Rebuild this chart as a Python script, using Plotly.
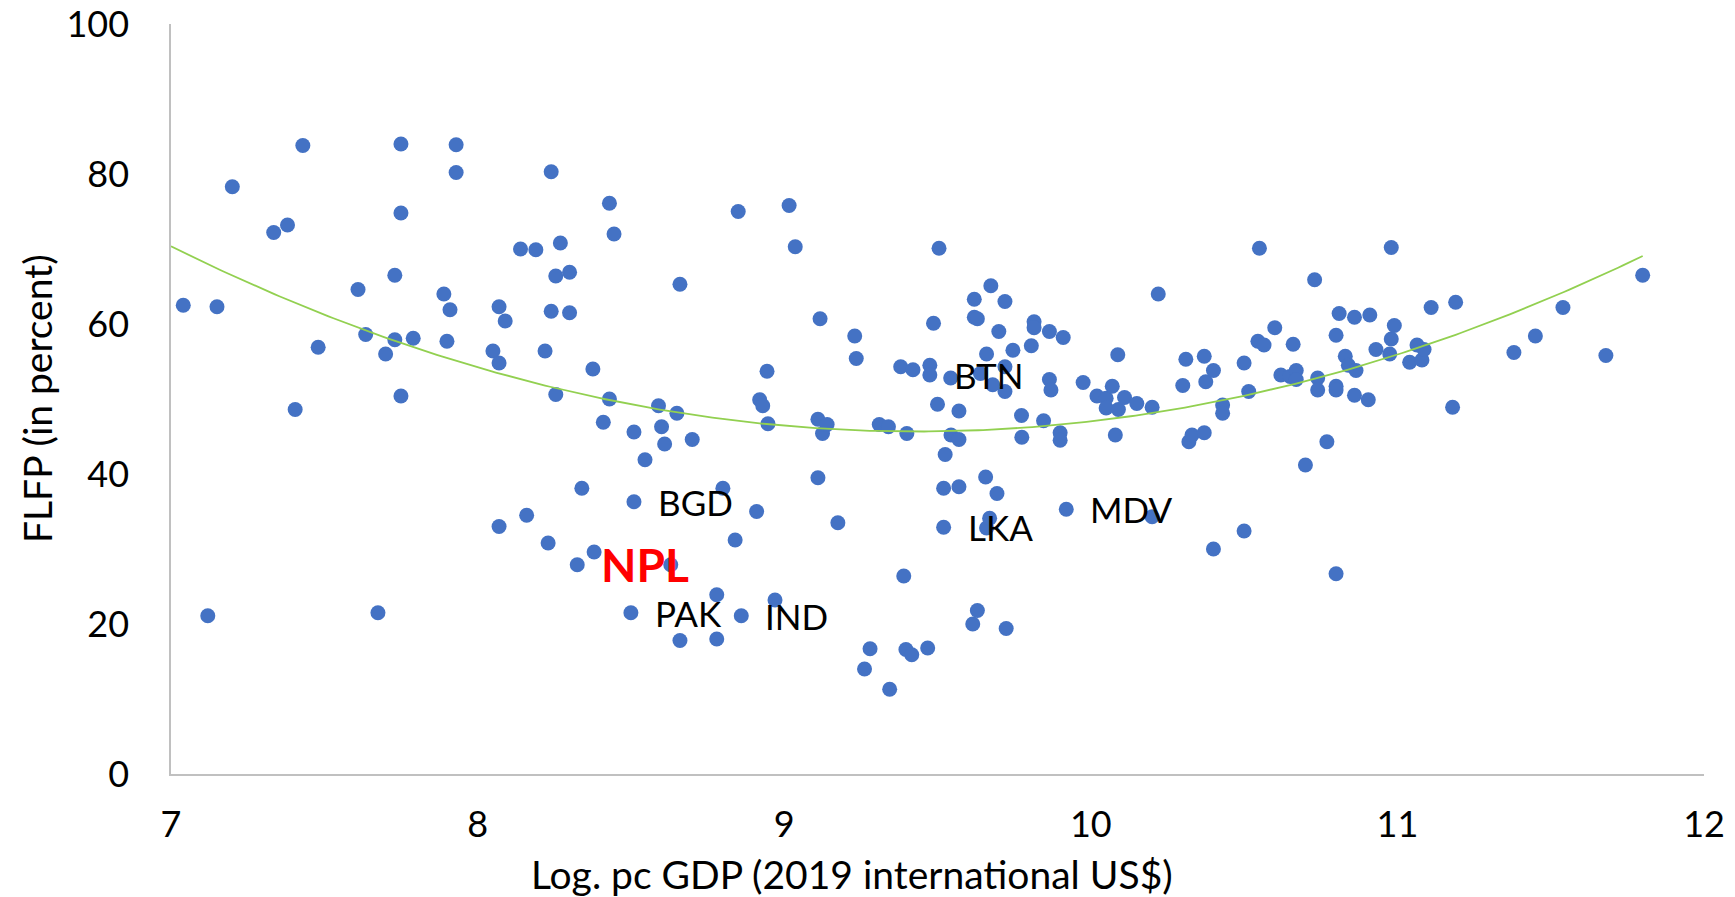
import numpy as np
import plotly.graph_objects as go

# Log. pc GDP (2019 international US$)
gdp = [7.04, 7.12, 7.15, 7.20, 7.335, 7.38, 7.405, 7.43, 7.48, 7.61, 7.635, 7.675, 7.70, 7.73, 7.73,
       7.75, 7.75, 7.75, 7.79, 7.89, 7.90, 7.91, 7.93, 7.93, 8.05, 8.07, 8.07, 8.07, 8.09, 8.14,
       8.16, 8.19, 8.22, 8.23, 8.24, 8.24, 8.255, 8.255, 8.27, 8.30, 8.30, 8.325, 8.34, 8.376, 8.38,
       8.41, 8.43, 8.43, 8.445, 8.50, 8.51, 8.51, 8.546, 8.59, 8.60, 8.61, 8.63, 8.65, 8.66, 8.66,
       8.70, 8.78, 8.78, 8.80, 8.84, 8.85, 8.86, 8.91, 8.92, 8.93, 8.944, 8.947, 8.97, 9.016, 9.036,
       9.11, 9.11, 9.117, 9.125, 9.14, 9.175, 9.23, 9.235, 9.262, 9.28, 9.31, 9.34, 9.344, 9.38, 9.39,
       9.397, 9.40, 9.416, 9.42, 9.468, 9.475, 9.475, 9.487, 9.50, 9.505, 9.52, 9.52, 9.525, 9.543, 9.544,
       9.57, 9.57, 9.57, 9.615, 9.62, 9.62, 9.63, 9.63, 9.64, 9.657, 9.66, 9.66, 9.67, 9.674, 9.68,
       9.694, 9.70, 9.72, 9.72, 9.72, 9.724, 9.746, 9.774, 9.775, 9.806, 9.815, 9.815, 9.846, 9.865, 9.865,
       9.87, 9.90, 9.90, 9.91, 9.92, 9.975, 10.02, 10.05, 10.05, 10.07, 10.08, 10.088, 10.09, 10.11, 10.15,
       10.20, 10.20, 10.22, 10.30, 10.31, 10.32, 10.33, 10.37, 10.37, 10.375, 10.40, 10.40, 10.43, 10.43, 10.50,
       10.50, 10.515, 10.545, 10.55, 10.565, 10.60, 10.62, 10.65, 10.66, 10.67, 10.67, 10.70, 10.73, 10.74, 10.74,
       10.77, 10.80, 10.80, 10.80, 10.80, 10.81, 10.83, 10.84, 10.86, 10.86, 10.865, 10.905, 10.91, 10.93, 10.975,
       10.98, 10.98, 10.99, 11.04, 11.064, 11.08, 11.087, 11.11, 11.18, 11.19, 11.38, 11.45, 11.54, 11.68, 11.80]

# FLFP (in percent)
flfp = [62.5, 21.1, 62.3, 78.3, 72.2, 73.2, 48.6, 83.8, 56.9, 64.6, 58.6, 21.5, 56.0, 66.5, 57.9,
        74.8, 84.0, 50.4, 58.1, 64.0, 57.7, 61.9, 83.9, 80.2, 56.4, 62.3, 54.8, 33.0, 60.4, 70.0,
        34.5, 69.9, 56.4, 30.8, 80.3, 61.7, 66.4, 50.6, 70.8, 66.9, 61.5, 27.9, 38.1, 54.0, 29.6,
        46.9, 76.1, 50.0, 72.0, 21.5, 45.6, 36.3, 41.9, 49.1, 46.3, 44.0, 27.9, 48.1, 65.3, 17.8,
        44.6, 23.9, 18.0, 38.1, 31.2, 75.0, 21.1, 35.0, 49.9, 49.1, 53.7, 46.7, 23.2, 75.8, 70.3,
        47.3, 39.5, 60.7, 45.4, 46.6, 33.5, 58.4, 55.4, 14.0, 16.7, 46.6, 46.3, 11.3, 54.3, 26.4,
        16.6, 45.4, 15.9, 53.9, 16.8, 54.5, 53.2, 60.1, 49.3, 70.1, 38.1, 32.9, 42.6, 52.8, 45.2,
        48.4, 44.6, 38.3, 20.0, 63.3, 60.9, 60.7, 21.8, 53.4, 39.6, 56.0, 32.8, 34.1, 65.1, 51.9,
        37.4, 59.0, 63.0, 54.3, 51.0, 19.4, 56.5, 47.8, 44.9, 57.1, 60.3, 59.5, 47.1, 59.0, 52.6,
        51.2, 45.5, 44.5, 58.2, 35.3, 52.2, 50.4, 50.1, 48.8, 51.7, 45.2, 55.9, 48.6, 50.2, 49.4,
        48.9, 34.3, 64.0, 51.8, 55.3, 44.3, 45.2, 45.5, 55.7, 52.3, 53.8, 30.0, 49.2, 48.1, 54.8,
        32.4, 51.0, 57.7, 70.1, 57.2, 59.5, 53.2, 53.0, 57.3, 53.8, 52.6, 41.2, 65.9, 52.8, 51.2,
        44.3, 58.5, 51.7, 51.2, 26.7, 61.4, 55.7, 54.5, 60.9, 50.5, 53.8, 49.9, 61.2, 56.6, 56.0,
        70.2, 58.0, 59.8, 54.9, 57.2, 55.2, 56.6, 62.2, 48.9, 62.9, 56.2, 58.4, 62.2, 55.8, 66.5]

# Labelled South Asian countries
label_codes = ["BTN", "BGD", "NPL", "PAK", "IND", "LKA", "MDV"]
label_x = [9.475, 8.51, 8.325, 8.50, 8.86, 9.52, 9.92]
label_y = [53.2, 36.3, 27.9, 21.5, 21.1, 32.9, 35.3]

x_ticks = [7, 8, 9, 10, 11, 12]
y_ticks = [0, 20, 40, 60, 80, 100]

x_title = "Log. pc GDP (2019 international US$)"
y_title = "FLFP (in percent)"

FONT = "Lato"

fig = go.Figure()
fig.add_trace(go.Scatter(
    x=gdp, y=flfp, mode="markers",
    marker=dict(color="#4472C4", size=15, line=dict(width=0)),
    showlegend=False, hoverinfo="x+y"))

# Polynomial (order 2) trendline fitted to the data
coef = np.polyfit(gdp, flfp, 2)
xs = np.linspace(x_ticks[0], max(gdp), 300)
fig.add_trace(go.Scatter(
    x=xs, y=np.polyval(coef, xs), mode="lines",
    line=dict(color="#92D050", width=1.8), showlegend=False, hoverinfo="skip"))

for code, lx, ly in zip(label_codes, label_x, label_y):
    is_npl = code == "NPL"
    fig.add_annotation(
        x=lx, y=ly, xref="x", yref="y", text=f"<b>{code}</b>" if is_npl else code,
        showarrow=False, xanchor="left", yanchor="middle", xshift=22,
        font=dict(family=FONT, size=46 if is_npl else 35, color="#FF0000" if is_npl else "#000000"))

# Axis titles
fig.add_annotation(text=x_title, xref="paper", yref="paper", x=0.444, y=0,
                   xanchor="center", yanchor="middle", yshift=-100, showarrow=False,
                   font=dict(family=FONT, size=39, color="#000000"))
fig.add_annotation(text=y_title, xref="paper", yref="paper", x=0, y=0.5, textangle=-90,
                   xanchor="center", yanchor="middle", xshift=-134, showarrow=False,
                   font=dict(family=FONT, size=39, color="#000000"))

axis_common = dict(
    showgrid=False, zeroline=False, showline=True, linecolor="#C0C0C0", linewidth=1.5,
    ticks="outside", tickcolor="rgba(0,0,0,0)", automargin=False, ticklabeloverflow="allow",
    tickfont=dict(family=FONT, size=36, color="#000000"),
)

fig.update_layout(
    autosize=True,
    margin=dict(l=171, r=31, t=24, b=123),
    plot_bgcolor="white", paper_bgcolor="white",
    xaxis=dict(range=[7, 12], tickvals=x_ticks, ticklen=18, **axis_common),
    yaxis=dict(range=[0, 100], tickvals=y_ticks, ticklen=33, **axis_common),
)

# Remove the page's default body margin so the figure fills the whole window
fix_page = (
    "document.documentElement.style.margin='0';"
    "document.body.style.margin='0';"
    "document.documentElement.style.height='100%';"
    "document.body.style.height='100%';"
    "var gd=document.getElementById('{plot_id}');"
    "gd.parentElement.style.height='100%';"
    "Plotly.Plots.resize(gd);"
)

fig.write_html("out.html", config={"responsive": True, "displayModeBar": False},
               post_script=fix_page)
